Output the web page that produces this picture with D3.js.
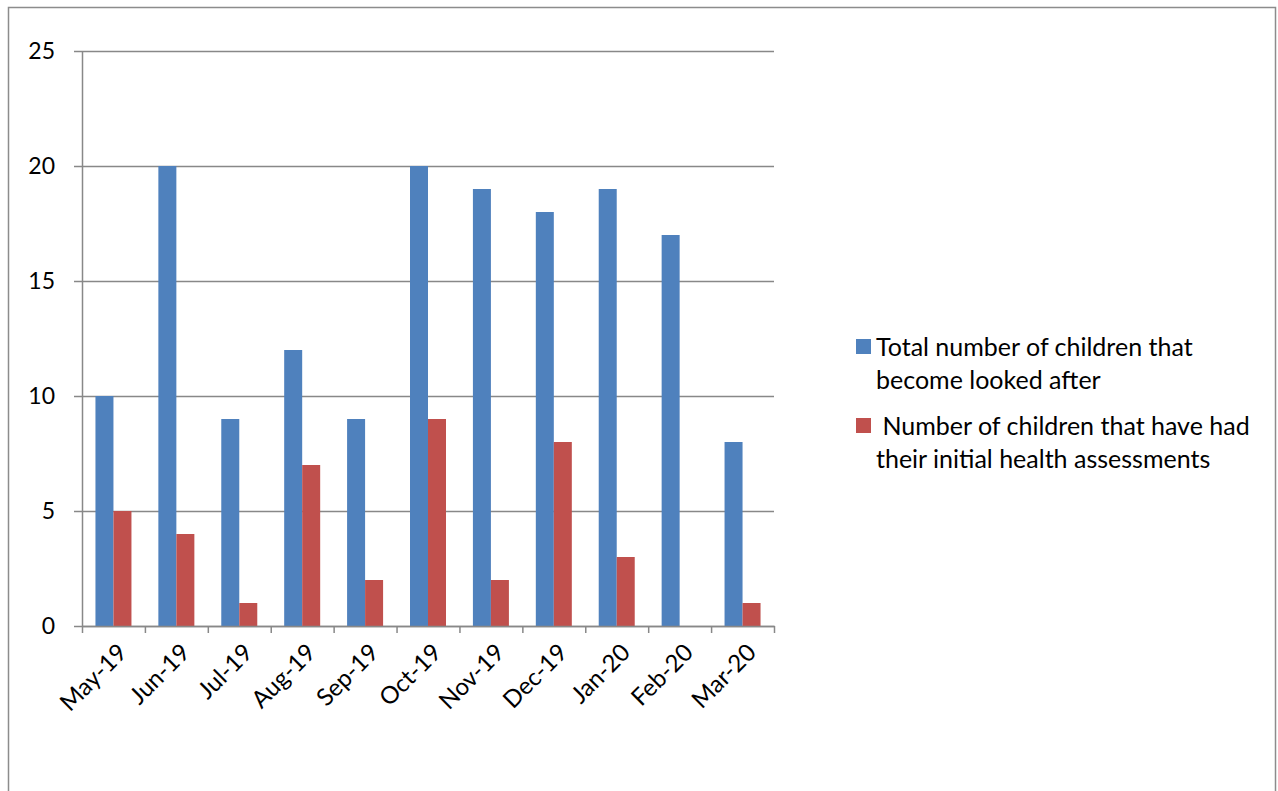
<!DOCTYPE html>
<html><head><meta charset="utf-8">
<script src="https://cdn.jsdelivr.net/npm/d3@7"></script>
<style>body{margin:0;background:#fff}svg{display:block}</style>
</head><body>
<script>
const months = ["May-19","Jun-19","Jul-19","Aug-19","Sep-19","Oct-19","Nov-19","Dec-19","Jan-20","Feb-20","Mar-20"];
const totalLookedAfter = [10,20,9,12,9,20,19,18,19,17,8];
const healthAssessed = [5,4,1,7,2,9,2,8,3,null,1];
const yTicks = [0,5,10,15,20,25];
const seriesNames = ["Total number of children that|become looked after", " Number of children that have had|their initial health assessments"];
const colors = ["#4F81BD","#C0504D"];

const W=1278,H=791;
const svg=d3.select("body").append("svg").attr("width",W).attr("height",H);
const font="Lato, 'Open Sans', sans-serif";
svg.append("rect").attr("x",8.5).attr("y",7.5).attr("width",1267).attr("height",800)
  .attr("fill","#fff").attr("stroke","#8c8c8c").attr("stroke-width",1.5);

const x0=82,x1=774,yT=51,yB=626;
const x=d3.scaleBand().domain(months).range([x0,x1]);
const y=d3.scaleLinear().domain([0,25]).range([yB,yT]);

const g=svg.append("g");
g.selectAll("line.grid").data(yTicks).join("line")
  .attr("x1",x0-8).attr("x2",x1).attr("y1",d=>y(d)+0.5).attr("y2",d=>y(d)+0.5)
  .attr("stroke","#888").attr("stroke-width",1.5);

const bw=18;
const sub=d3.scaleBand().domain([0,1]).range([0,bw*2]);
const groups=g.selectAll("g.m").data(months).join("g")
  .attr("transform",d=>`translate(${x(d)+x.bandwidth()/2-bw},0)`);
[totalLookedAfter,healthAssessed].forEach((arr,si)=>{
  groups.append("rect")
    .attr("x",sub(si)).attr("width",bw)
    .attr("y",(d,i)=>arr[i]==null?yB:y(arr[i]))
    .attr("height",(d,i)=>arr[i]==null?0:yB-y(arr[i]))
    .attr("fill",colors[si]);
});

g.append("line").attr("x1",x0+0.5).attr("x2",x0+0.5).attr("y1",yT).attr("y2",yB+1)
  .attr("stroke","#888").attr("stroke-width",1.5);
g.append("line").attr("x1",x0).attr("x2",x1+1).attr("y1",yB+0.5).attr("y2",yB+0.5)
  .attr("stroke","#888").attr("stroke-width",1.5);
const tickXs=months.map(m=>x(m)).concat([x1]);
g.selectAll("line.xt").data(tickXs).join("line")
  .attr("x1",d=>d+0.5).attr("x2",d=>d+0.5).attr("y1",yB).attr("y2",yB+7)
  .attr("stroke","#888").attr("stroke-width",1.5);

g.selectAll("text.yl").data(yTicks).join("text")
  .attr("x",55).attr("y",d=>y(d)).attr("dy","0.35em").attr("text-anchor","end")
  .attr("font-family",font).attr("font-size",23).attr("fill","#000").text(d=>d);

g.selectAll("text.xl").data(months).join("text")
  .attr("transform",d=>`translate(${x(d)+x.bandwidth()/2+9},${yB+22}) rotate(-45)`)
  .attr("text-anchor","end").attr("dy","0.35em")
  .attr("font-family",font).attr("font-size",24).attr("fill","#000").text(d=>d);

const leg=svg.append("g");
const lgY=[347,426];
seriesNames.forEach((n,i)=>{
  leg.append("rect").attr("x",856).attr("y",lgY[i]-8).attr("width",15).attr("height",15).attr("fill",colors[i]);
  n.split("|").forEach((t,j)=>{
    leg.append("text").attr("x",876).attr("y",lgY[i]+j*33).attr("dy","0.35em")
      .attr("font-family",font).attr("font-size",25).attr("fill","#000")
      .attr("xml:space","preserve").style("white-space","pre").text(t);
  });
});
</script>
</body></html>
